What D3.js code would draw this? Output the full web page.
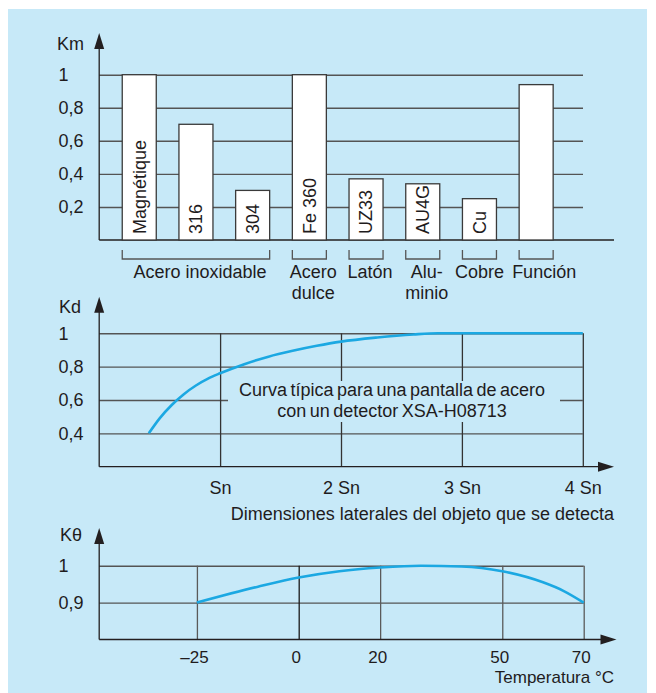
<!DOCTYPE html>
<html>
<head>
<meta charset="utf-8">
<script src="https://cdn.jsdelivr.net/npm/d3@7/dist/d3.min.js"></script>
<style>
  html, body { margin: 0; padding: 0; background: #ffffff; }
  svg { display: block; }
  text { font-family: "Liberation Sans", Arial, Helvetica, sans-serif; fill: #1f1c1d; }
</style>
</head>
<body>
<svg id="chart" width="656" height="693"></svg>
<script>
// ---------- DATA ----------
// Chart 1: Km factor by material
const categories = ["Magnétique", "316", "304", "Fe 360", "UZ33", "AU4G", "Cu", "Función"];
const barLabels = ["Magnétique", "316", "304", "Fe 360", "UZ33", "AU4G", "Cu", ""];
const kmValues = [1.0, 0.70, 0.30, 1.0, 0.37, 0.34, 0.25, 0.94];
const groupLabels = [["Acero inoxidable"], ["Acero", "dulce"], ["Latón"], ["Alu-", "minio"], ["Cobre"], ["Función"]];
const groupFirst = ["Magnétique", "Fe 360", "UZ33", "AU4G", "Cu", "Función"];
const groupLast = ["304", "Fe 360", "UZ33", "AU4G", "Cu", "Función"];
const kmTicks = [0.2, 0.4, 0.6, 0.8, 1];
const kmTickLabels = ["0,2", "0,4", "0,6", "0,8", "1"];

// Chart 2: Kd vs lateral dimension (in Sn)
const kdX = [0.41, 0.5, 0.6, 0.7, 0.8, 0.9, 1.0, 1.2, 1.4, 1.6, 1.8, 2.0, 2.3, 2.6, 2.8, 3.0, 4.0];
const kdY = [0.40, 0.49, 0.57, 0.635, 0.687, 0.728, 0.76, 0.815, 0.86, 0.895, 0.925, 0.95, 0.975, 0.993, 1.0, 1.0, 1.0];
const kdTicks = [0.4, 0.6, 0.8, 1];
const kdTickLabels = ["0,4", "0,6", "0,8", "1"];
const snTicks = [1, 2, 3, 4];
const snTickLabels = ["Sn", "2 Sn", "3 Sn", "4 Sn"];
const kdNote = ["Curva típica para una pantalla de acero", "con un detector XSA-H08713"];

// Chart 3: Ktheta vs temperature
const tempX = [-25, -10, 0, 10, 20, 30, 40, 50, 60, 65, 70];
const ktY = [0.90, 0.943, 0.968, 0.985, 0.995, 1.0, 0.998, 0.985, 0.955, 0.932, 0.90];
const ktTicks = [0.9, 1];
const ktTickLabels = ["0,9", "1"];
const tempTicks = [-25, 0, 20, 50, 70];
const tempTickLabels = ["–25", "0", "20", "50", "70"];

// ---------- STYLE ----------
const BG = "#c7e9f8";
const GRID = "#545454";
const AXIS = "#231f20";
const CURVE = "#1ba8e2";
const FS = 18;
const FONT = '"Liberation Sans", Arial, sans-serif';

const svg = d3.select("#chart");
svg.append("rect").attr("x", 8).attr("y", 9).attr("width", 639).attr("height", 684).attr("fill", BG);

const AX = 99.2; // y-axis position shared by the three charts

function yArrow(tipY, bottomY) {
  svg.append("line").attr("x1", AX).attr("x2", AX).attr("y1", tipY + 10).attr("y2", bottomY)
    .attr("stroke", AXIS).attr("stroke-width", 1.3);
  svg.append("path").attr("d", `M${AX},${tipY} L${AX - 5},${tipY + 16} L${AX + 5},${tipY + 16} Z`).attr("fill", AXIS);
}
function xArrow(y, tipX) {
  svg.append("line").attr("x1", AX).attr("x2", tipX - 10).attr("y1", y).attr("y2", y)
    .attr("stroke", AXIS).attr("stroke-width", 1.3);
  svg.append("path").attr("d", `M${tipX},${y} L${tipX - 16},${y - 5} L${tipX - 16},${y + 5} Z`).attr("fill", AXIS);
}
function styleLeftAxis(g) {
  g.select(".domain").remove();
  g.selectAll(".tick line").attr("stroke", GRID).attr("stroke-width", 1.4);
  g.selectAll(".tick text").attr("x", -40.7).attr("text-anchor", "start")
    .style("font-size", FS + "px").style("font-family", FONT).attr("fill", "#1f1c1d");
}

// ================= Chart 1 =================
const x1 = d3.scaleBand().domain(categories).range([110.9, 564.5]).paddingInner(0.4).paddingOuter(0.2);
const y1 = d3.scaleLinear().domain([0, 1]).range([240, 74.7]);

const g1 = svg.append("g").attr("transform", `translate(${AX},0)`)
  .call(d3.axisLeft(y1).tickValues(kmTicks).tickSize(-(583 - AX)).tickFormat((d, i) => kmTickLabels[i]));
styleLeftAxis(g1);

// baseline (no arrow)
svg.append("line").attr("x1", AX).attr("x2", 614).attr("y1", y1(0)).attr("y2", y1(0))
  .attr("stroke", AXIS).attr("stroke-width", 1.3);
yArrow(33, y1(0));
svg.append("text").attr("x", 57).attr("y", 50).style("font-size", FS + "px").text("Km");

svg.append("g").selectAll("rect").data(categories).join("rect")
  .attr("x", d => x1(d)).attr("width", x1.bandwidth())
  .attr("y", (d, i) => y1(kmValues[i])).attr("height", (d, i) => y1(0) - y1(kmValues[i]))
  .attr("fill", "#ffffff").attr("stroke", "#3a3a3a").attr("stroke-width", 1.3);

svg.append("g").selectAll("text").data(categories).join("text")
  .attr("transform", d => `translate(${x1(d) + x1.bandwidth() / 2},234) rotate(-90)`)
  .attr("dy", "0.35em").attr("text-anchor", "start").style("font-size", "18px")
  .text((d, i) => barLabels[i]);

// group brackets and labels
const brG = svg.append("g");
groupLabels.forEach((lines, i) => {
  const xa = x1(groupFirst[i]);
  const xb = x1(groupLast[i]) + x1.bandwidth();
  brG.append("path").attr("d", `M${xa},250 V259 H${xb} V250`).attr("fill", "none")
    .attr("stroke", "#555").attr("stroke-width", 1.3);
  // nudge: the last two labels sit apart from each other
  const shift = i === groupLabels.length - 1 ? 8 : (i === groupLabels.length - 2 ? 0 : 4);
  const t = brG.append("text").attr("text-anchor", "middle").style("font-size", FS + "px");
  lines.forEach((ln, j) => {
    t.append("tspan").attr("x", (xa + xb) / 2 + shift).attr("y", 278 + j * 21).text(ln);
  });
});

// ================= Chart 2 =================
const x2 = d3.scaleLinear().domain([0, 4]).range([AX, 582.8]);
const y2 = d3.scaleLinear().domain([0.2, 1]).range([466.7, 333.3]);

const g2 = svg.append("g").attr("transform", `translate(${AX},0)`)
  .call(d3.axisLeft(y2).tickValues(kdTicks).tickSize(-(582.8 - AX)).tickFormat((d, i) => kdTickLabels[i]));
styleLeftAxis(g2);

const g2b = svg.append("g").attr("transform", `translate(0,${y2(0.2)})`)
  .call(d3.axisBottom(x2).tickValues(snTicks).tickSize(-(y2(0.2) - y2(1))).tickPadding(14.5)
    .tickFormat((d, i) => snTickLabels[i]));
g2b.select(".domain").remove();
g2b.selectAll(".tick line").attr("stroke", "#333").attr("stroke-width", 1.3);
g2b.selectAll(".tick text").style("font-size", FS + "px").style("font-family", FONT).attr("fill", "#1f1c1d");

xArrow(y2(0.2), 614);
yArrow(296.7, y2(0.2));
svg.append("text").attr("x", 59).attr("y", 313).style("font-size", FS + "px").text("Kd");

// annotation box (masks grid)
svg.append("rect").attr("x", 228).attr("y", 381).attr("width", 332).attr("height", 41).attr("fill", BG);
const note = svg.append("text").attr("text-anchor", "middle").style("font-size", FS + "px").style("word-spacing", "-1.5px");
kdNote.forEach((ln, j) => note.append("tspan").attr("x", 392).attr("y", 396 + j * 21).text(ln));

svg.append("path").datum(kdX.map((d, i) => [d, kdY[i]]))
  .attr("d", d3.line().x(d => x2(d[0])).y(d => y2(d[1])).curve(d3.curveMonotoneX))
  .attr("fill", "none").attr("stroke", CURVE).attr("stroke-width", 2.6);

svg.append("text").attr("x", 614).attr("y", 520).attr("text-anchor", "end").style("font-size", FS + "px")
  .text("Dimensiones laterales del objeto que se detecta");

// ================= Chart 3 =================
const x3 = d3.scaleLinear().domain([-49, 70]).range([AX, 583.7]);
const y3 = d3.scaleLinear().domain([0.8, 1]).range([639.5, 565.7]);

const g3 = svg.append("g").attr("transform", `translate(${AX},0)`)
  .call(d3.axisLeft(y3).tickValues(ktTicks).tickSize(-(583.7 - AX)).tickFormat((d, i) => ktTickLabels[i]));
styleLeftAxis(g3);

const g3b = svg.append("g").attr("transform", `translate(0,${y3(0.8)})`)
  .call(d3.axisBottom(x3).tickValues(tempTicks).tickSize(-(y3(0.8) - y3(1))).tickPadding(11.5)
    .tickFormat((d, i) => tempTickLabels[i]));
g3b.select(".domain").remove();
g3b.selectAll(".tick line").attr("stroke", d => d === 0 ? "#1a1a1a" : "#5a5a5a").attr("stroke-width", 1.3);
g3b.selectAll(".tick text").attr("dx", -3).style("font-size", "17px").style("font-family", FONT).attr("fill", "#1f1c1d");

xArrow(y3(0.8), 616.5);
yArrow(528, y3(0.8));
svg.append("text").attr("x", 60).attr("y", 541).style("font-size", FS + "px").text("Kθ");

svg.append("path").datum(tempX.map((d, i) => [d, ktY[i]]))
  .attr("d", d3.line().x(d => x3(d[0])).y(d => y3(d[1])).curve(d3.curveMonotoneX))
  .attr("fill", "none").attr("stroke", CURVE).attr("stroke-width", 2.6);

svg.append("text").attr("x", 614).attr("y", 683).attr("text-anchor", "end").style("font-size", "17px")
  .text("Temperatura °C");
</script>
</body>
</html>
